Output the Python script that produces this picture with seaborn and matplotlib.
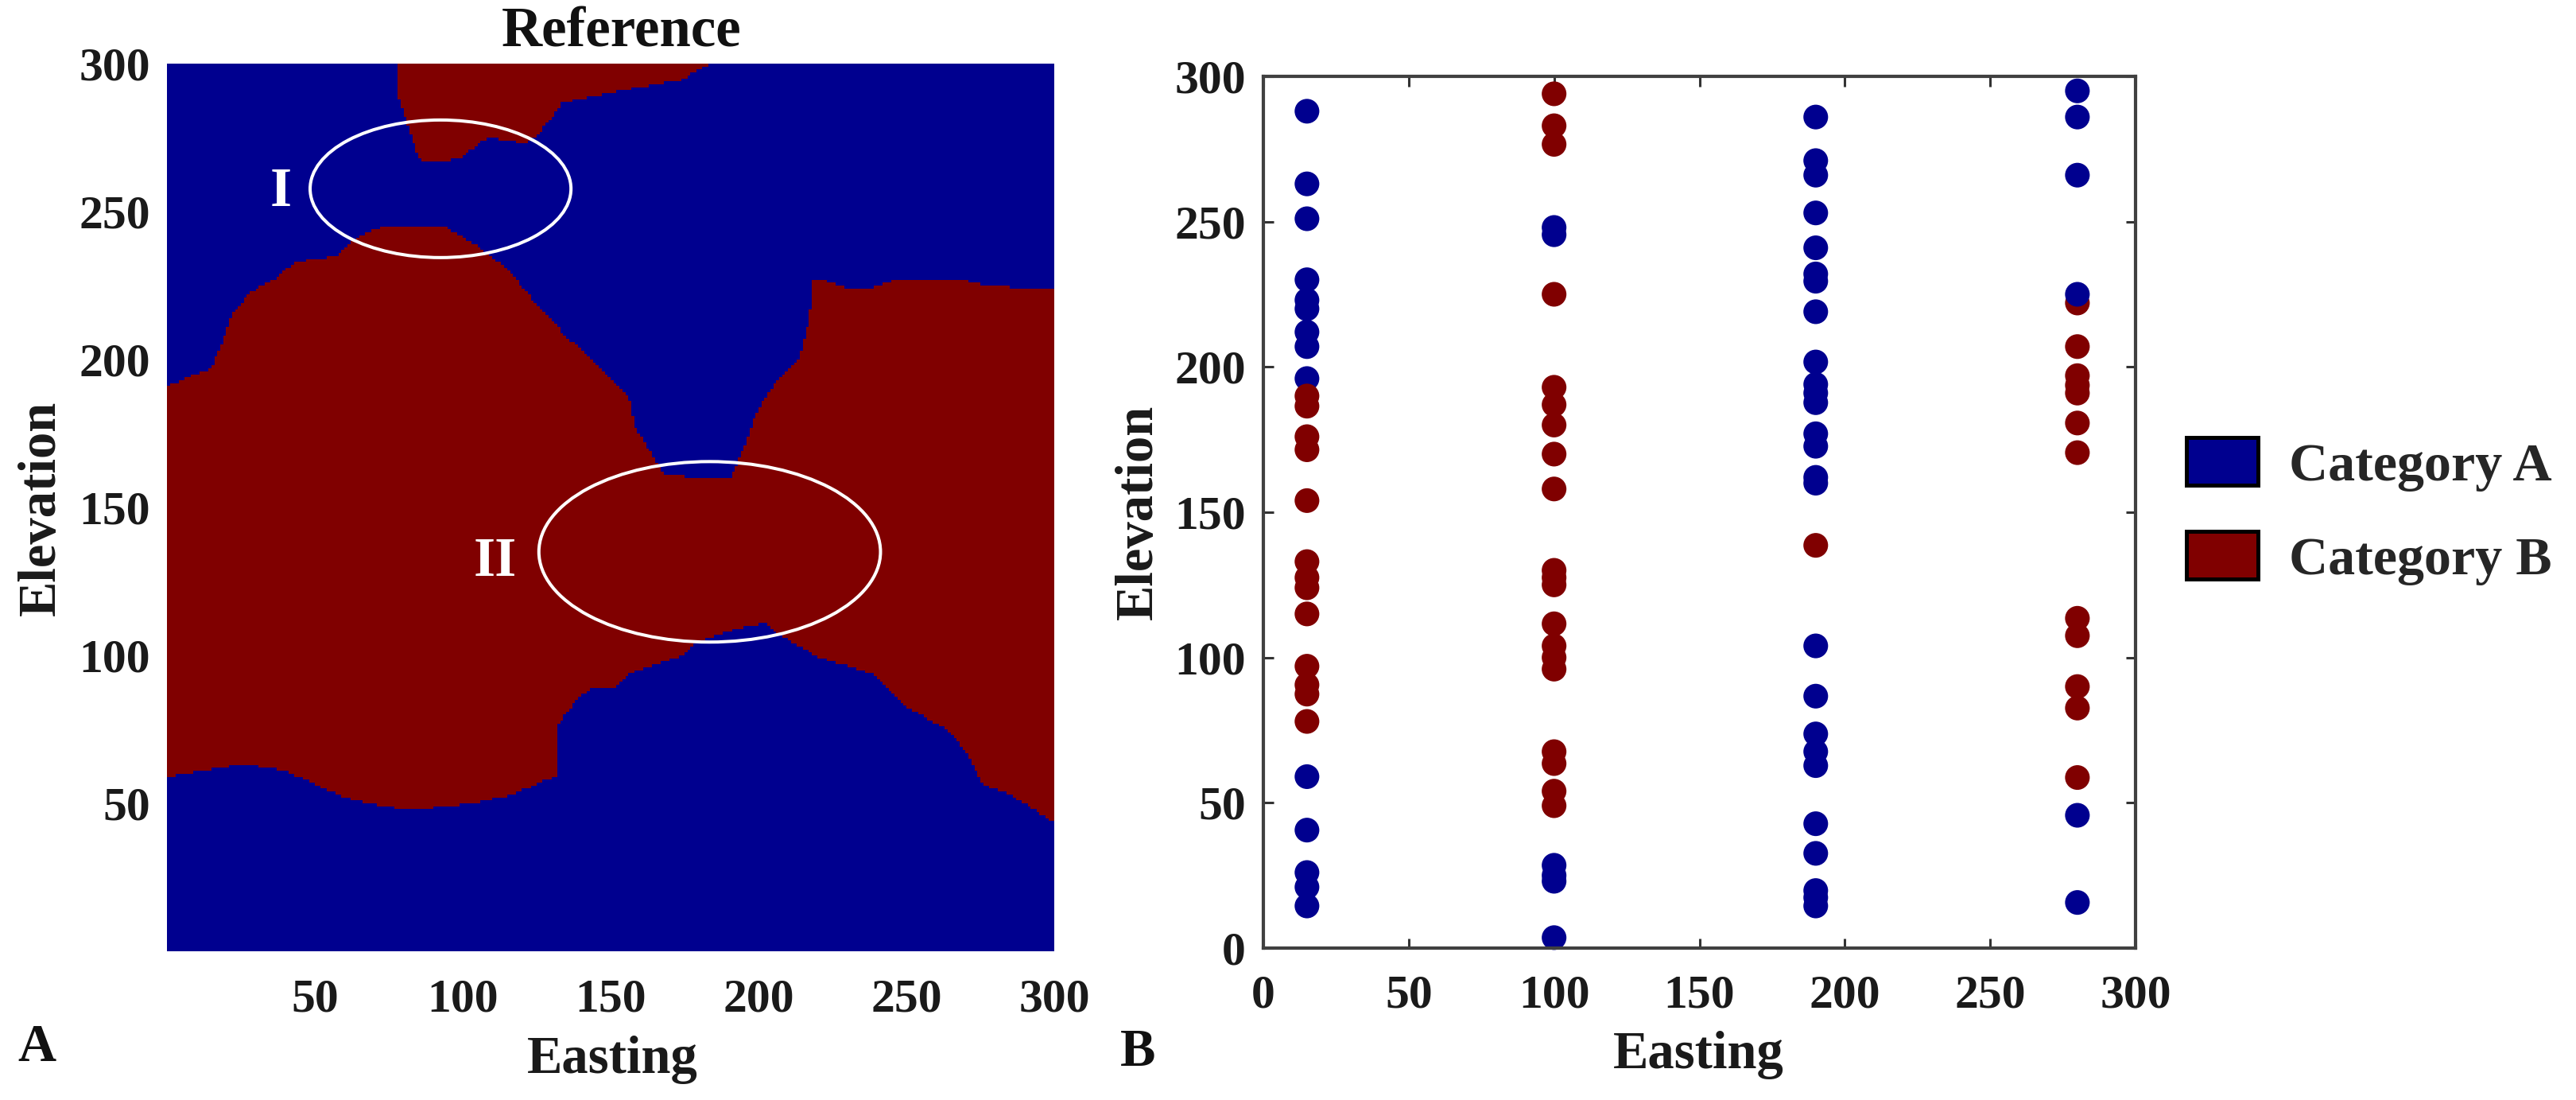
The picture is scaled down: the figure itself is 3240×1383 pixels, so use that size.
import seaborn as sns
import numpy as np
import pandas as pd
import matplotlib.pyplot as plt
from matplotlib.colors import ListedColormap
from matplotlib.patches import Ellipse, Patch
from matplotlib.path import Path

BLUE = '#00008f'
RED = '#800000'

# panel A: outlines of the category B areas (easting, elevation)
top_area_easting = [78, 78, 80.7, 85, 87, 89, 99, 103, 108.5, 121, 125, 129.5, 133.5, 140, 154.5, 174, 179.5, 183.5, 183.5]
top_area_elevation = [301, 290, 281, 268, 266.5, 266.5, 268, 271, 275, 273, 275.5, 281, 287, 288, 291, 294.5, 298, 300, 301]

main_upper_easting = [-1, 0, 7, 15, 18.6, 22, 28, 37.6, 43, 57, 65.4, 74, 93, 104, 115.5, 124, 135, 146, 156, 158.6,
                      165.6, 168, 178, 190.6, 195, 199, 206, 214, 217, 218.5, 221, 231, 238, 246, 268.5, 277, 300, 301]
main_upper_elevation = [191, 191, 194, 197, 205.5, 215, 222.5, 228, 232.8, 235, 242, 245.4, 245.4, 239, 230.4, 219.7, 207.8, 198, 187.6, 177,
                        165, 161.5, 160, 160.3, 170, 181.7, 192.5, 200.7, 212.6, 226.8, 227, 223.8, 224, 227, 227, 224.9, 223.8, 223.8]
main_lower_easting = [-1, 0, 10, 26.4, 40, 60, 74, 86, 104, 117, 131.6, 132, 138, 143, 152, 157, 174, 179.5, 193, 202,
                      207, 221, 238, 249, 264, 271, 275.5, 285, 300, 301]
main_lower_elevation = [59, 59, 60.6, 63.4, 61, 52, 48.7, 48, 50, 53, 59.4, 76, 84.5, 88.6, 89, 94, 100, 104.5, 109, 111,
                        107, 99, 94, 83, 75, 66, 56.6, 53, 43.5, 43.5]

# panel B: wells, listed so that the overlaps stack as in the figure
east_15 = [288, 263, 251, 230, 223, 220, 212, 207, 196, 190, 186.5, 176, 171.5, 154, 133, 127.5, 124, 115, 97, 90.6, 87.4, 78, 59, 40.6, 26, 21, 14.5]
cat_15 = list('AAAAAAAAABBBBBBBBBBBBBAAAAA')
east_100 = [294, 283, 276.6, 248, 245.5, 225, 193, 187, 180, 170, 158, 130, 127.5, 125, 111.6, 104, 100, 96, 67.6, 63.5, 54, 49, 28.5, 25, 23, 3.6]
cat_100 = list('BBBAABBBBBBBBBBBBBBBBBAAAA')
east_190 = [286, 271, 266, 253, 241, 232, 229.5, 219, 201.7, 194, 191, 187.7, 177, 172.7, 162, 160, 138.6, 104, 86.7, 73.7, 67.6, 62.8, 42.8, 32.6, 19.8, 17.4, 14.5]
cat_190 = list('AAAAAAAAAAAAAAAABAAAAAAAAAA')
east_280 = [15.7, 45.7, 58.7, 82.6, 90, 107.5, 113.5, 170.5, 180.7, 191, 193.7, 197, 207, 222, 225, 266, 286, 295]
cat_280 = list('AABBBBBBBBBBBBAAAA')

xticks_a = [50, 100, 150, 200, 250, 300]
yticks_a = [50, 100, 150, 200, 250, 300]
ticks_b = [0, 50, 100, 150, 200, 250, 300]

W, H = 3241, 1383

sns.set_theme(style='ticks')
plt.rcParams['font.family'] = ['Liberation Serif', 'DejaVu Serif']
plt.rcParams['font.weight'] = 'bold'

fig = plt.figure(figsize=(W / 100, H / 100), dpi=100, facecolor='white')


def axes_px(left, top, right, bottom):
    return fig.add_axes([left / W, 1 - bottom / H, (right - left) / W, (bottom - top) / H])


# panel A
ax = axes_px(210, 80, 1326, 1196)
cx, cy = np.meshgrid(np.arange(300) + 0.5, np.arange(300) + 0.5)
cells = np.column_stack([cx.ravel(), cy.ravel()])
top_area = Path(np.column_stack([top_area_easting, top_area_elevation]))
main_area = Path(np.column_stack([main_upper_easting + main_lower_easting[::-1],
                                  main_upper_elevation + main_lower_elevation[::-1]]))
grid = (top_area.contains_points(cells) | main_area.contains_points(cells)).reshape(300, 300).astype(int)

sns.heatmap(grid, ax=ax, cmap=ListedColormap([BLUE, RED]), vmin=0, vmax=1, cbar=False,
            xticklabels=False, yticklabels=False)
ax.invert_yaxis()
ax.set_xticks(xticks_a, labels=[str(t) for t in xticks_a])
ax.set_yticks(yticks_a, labels=[str(t) for t in yticks_a], rotation=0)
ax.tick_params(length=0, labelsize=43, pad=15, colors='#1a1a1a')
ax.tick_params(axis='x', pad=25)
ax.set_xlabel('Easting', fontsize=48, fontweight='bold', va='center', color='#1a1a1a')
ax.xaxis.set_label_coords(0.502, -0.122)
ax.set_ylabel('Elevation', fontsize=48, fontweight='bold', va='center', color='#1a1a1a')
ax.yaxis.set_label_coords(-0.141, 0.499)
ax.text(0.5125, 1.0197, 'Reference', transform=ax.transAxes, fontsize=51, fontweight='bold',
        ha='center', va='baseline', color='#111111')

ax.add_patch(Ellipse((92.5, 257.7), 88.2, 46.5, fill=False, edgecolor='white', linewidth=2.9))
ax.add_patch(Ellipse((183.5, 135), 115.5, 61, fill=False, edgecolor='white', linewidth=2.9))
ax.text(38.4, 256.4, 'I', color='white', fontsize=50, fontweight='bold', ha='center', va='center')
ax.text(111, 131.5, 'II', color='white', fontsize=50, fontweight='bold', ha='center', va='center')

# panel B
wells = pd.concat([
    pd.DataFrame({'Easting': 15, 'Elevation': east_15, 'Category': cat_15}),
    pd.DataFrame({'Easting': 100, 'Elevation': east_100, 'Category': cat_100}),
    pd.DataFrame({'Easting': 190, 'Elevation': east_190, 'Category': cat_190}),
    pd.DataFrame({'Easting': 280, 'Elevation': east_280, 'Category': cat_280}),
])

ax2 = axes_px(1589, 96, 2686, 1192)
sns.scatterplot(wells, x='Easting', y='Elevation', hue='Category', palette={'A': BLUE, 'B': RED},
                s=500, linewidth=0, legend=False, ax=ax2, clip_on=False)
ax2.set_xlim(0, 300)
ax2.set_ylim(0, 300)
ax2.set_xticks(ticks_b, labels=[str(t) for t in ticks_b])
ax2.set_yticks(ticks_b, labels=[str(t) for t in ticks_b])
ax2.tick_params(direction='in', length=9, width=2.2, color='#333333', labelsize=43, pad=16,
                top=True, right=True, labelcolor='#1a1a1a')
ax2.tick_params(axis='x', pad=24)
for side in ax2.spines.values():
    side.set_visible(True)
    side.set_linewidth(3)
    side.set_color('#404040')
ax2.set_xlabel('Easting', fontsize=48, fontweight='bold', va='center', color='#1a1a1a')
ax2.xaxis.set_label_coords(0.499, -0.123)
ax2.set_ylabel('Elevation', fontsize=48, fontweight='bold', va='center', color='#1a1a1a')
ax2.yaxis.set_label_coords(-0.143, 0.5)

fig.text(46 / W, 1 - 1318 / H, 'A', fontsize=48, fontweight='bold', ha='center', va='center', color='#111111')
fig.text(1431 / W, 1 - 1323 / H, 'B', fontsize=48, fontweight='bold', ha='center', va='center', color='#111111')

handles = [Patch(facecolor=BLUE, edgecolor='black', linewidth=3.6, label='Category A'),
           Patch(facecolor=RED, edgecolor='black', linewidth=3.6, label='Category B')]
fig.legend(handles=handles, loc='center left', bbox_to_anchor=(2750 / W, 1 - 643 / H), frameon=False,
           fontsize=49, handlelength=1.32, handleheight=0.98, handletextpad=0.58, labelspacing=0.74,
           borderpad=0, borderaxespad=0)

fig.savefig('out.png', dpi=100)
